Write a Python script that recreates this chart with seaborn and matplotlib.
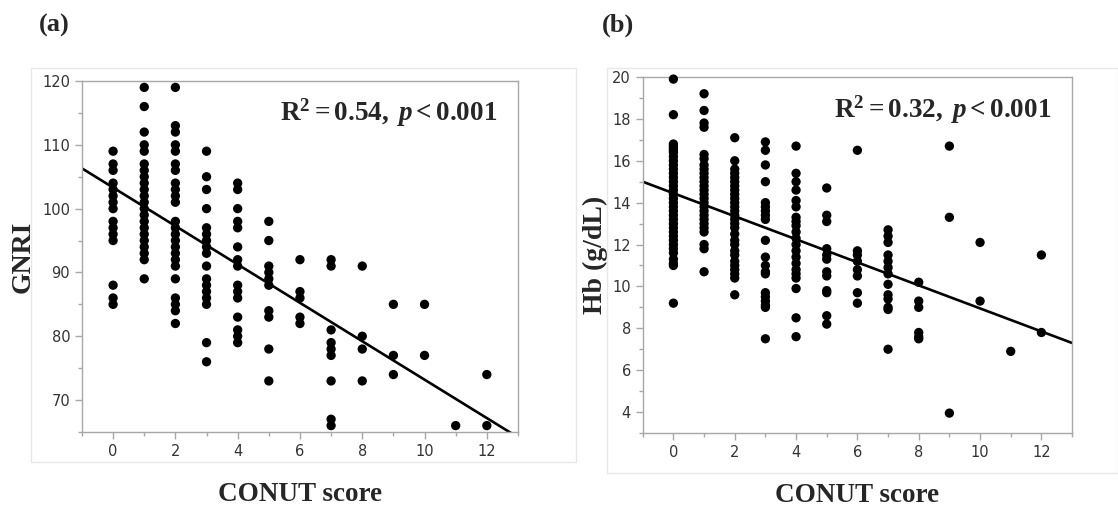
import numpy as np
import pandas as pd
import seaborn as sns
from matplotlib import pyplot as plt
from matplotlib.ticker import MultipleLocator

conut_scores = list(range(13))

# GNRI readings per CONUT score 0..12
gnri_values = [
    [109, 107, 106, 104, 103, 102, 101, 100, 98, 97, 96, 95, 88, 86, 85],
    [119, 116, 112, 110, 109, 107, 106, 105, 104, 103, 102, 101, 100, 99, 98,
     97, 96, 95, 94, 93, 92, 89],
    [119, 113, 112, 110, 109, 107, 106, 104, 103, 102, 101, 98, 97, 96, 95,
     94, 93, 92, 91, 89, 86, 85, 84, 82],
    [109, 105, 103, 100, 97, 96, 95, 94, 93, 91, 89, 88, 87, 86, 85, 79, 76],
    [104, 103, 100, 98, 97, 94, 92, 91, 88, 87, 86, 83, 81, 80, 79],
    [98, 95, 91, 90, 89, 88, 84, 83, 78, 73],
    [92, 87, 86, 83, 82],
    [92, 91, 81, 79, 78, 77, 73, 67, 66],
    [91, 80, 78, 73],
    [85, 77, 74],
    [85, 77],
    [66],
    [74, 66],
]

# Hb readings per CONUT score 0..12
hb_values = [
    [19.9, 18.2, 16.8, 16.7, 16.6, 16.5, 16.4, 16.2, 16.0, 15.8, 15.6, 15.4,
     15.2, 15.0, 14.8, 14.6, 14.4, 14.2, 14.0, 13.8, 13.6, 13.4, 13.2, 13.0,
     12.8, 12.6, 12.4, 12.2, 12.0, 11.8, 11.6, 11.3, 11.1, 11.0, 9.2],
    [19.2, 18.4, 17.8, 17.6, 16.3, 16.1, 15.8, 15.6, 15.4, 15.2, 15.0, 14.8,
     14.6, 14.4, 14.2, 14.0, 13.8, 13.6, 13.4, 13.2, 13.0, 12.8, 12.6, 12.0,
     11.8, 10.7],
    [17.1, 16.0, 15.6, 15.4, 15.2, 15.0, 14.8, 14.6, 14.4, 14.2, 14.0, 13.8,
     13.6, 13.4, 13.2, 13.0, 12.8, 12.5, 12.2, 12.0, 11.7, 11.5, 11.2, 11.0,
     10.8, 10.6, 10.4, 9.6],
    [16.9, 16.5, 15.8, 15.0, 14.0, 13.8, 13.6, 13.4, 13.2, 12.2, 11.4, 11.0,
     10.7, 10.6, 9.7, 9.5, 9.3, 9.1, 9.0, 7.5],
    [16.7, 15.4, 15.0, 14.6, 14.1, 13.8, 13.3, 13.1, 12.9, 12.6, 12.3, 12.0,
     11.7, 11.4, 11.1, 10.8, 10.6, 10.4, 9.9, 8.5, 7.6],
    [14.7, 13.4, 13.1, 11.8, 11.5, 11.3, 10.7, 10.5, 9.8, 9.7, 8.6, 8.2],
    [16.5, 11.7, 11.5, 11.2, 10.8, 10.5, 9.7, 9.2],
    [12.7, 12.4, 12.1, 11.5, 11.2, 10.9, 10.6, 10.1, 9.6, 9.4, 9.0, 8.9, 7.0],
    [10.2, 9.3, 9.0, 7.8, 7.6, 7.5],
    [16.7, 13.3, 3.95],
    [12.1, 9.3],
    [6.9],
    [11.5, 7.8],
]

# regression lines: (intercept, slope)
fit_a = (103.3, -3.01)
fit_b = (14.45, -0.55)
r2_text_a = r"$\mathrm{R}^{2} = 0.54,\;p < 0.001$"
r2_text_b = r"$\mathrm{R}^{2} = 0.32,\;p < 0.001$"


def long_df(values, name):
    rows = [(s, v) for s, vals in zip(conut_scores, values) for v in vals]
    return pd.DataFrame(rows, columns=['CONUT', name])


sns.set_style('white')
plt.rcParams['font.family'] = ['Liberation Serif', 'DejaVu Serif']
plt.rcParams['mathtext.fontset'] = 'custom'
plt.rcParams['mathtext.rm'] = 'Liberation Serif:bold'
plt.rcParams['mathtext.it'] = 'Liberation Serif:bold:italic'
plt.rcParams['mathtext.bf'] = 'Liberation Serif:bold'

fig = plt.figure(figsize=(11.18, 5.15), dpi=100)
ax_a = fig.add_axes([0.0733, 0.1612, 0.390, 0.6815])
ax_b = fig.add_axes([0.5749, 0.1592, 0.384, 0.6913])

# faint JMP-style frames
for x0, x1, y0, y1 in [(31, 576, 68, 462), (607, 1118, 68, 473)]:
    fig.patches.append(plt.Rectangle((x0 / 1118, 1 - y1 / 515), (x1 - x0) / 1118,
                                     (y1 - y0) / 515, transform=fig.transFigure,
                                     fill=False, edgecolor='#e8e8e8', lw=1, zorder=0))

panels = [
    (ax_a, long_df(gnri_values, 'GNRI'), 'GNRI', 'GNRI', fit_a, (65, 120), 10, 5, r2_text_a, 5),
    (ax_b, long_df(hb_values, 'Hb'), 'Hb', 'Hb (g/dL)', fit_b, (3, 20), 2, 1, r2_text_b, 3),
]

for ax, df, col, ylab, fit, ylim, major, minor, r2, ypad in panels:
    sns.scatterplot(data=df, x='CONUT', y=col, ax=ax, color='black', s=45,
                    edgecolor='none', clip_on=False, zorder=3)
    line = pd.DataFrame({'CONUT': [-1, 13]})
    line['fit'] = fit[0] + fit[1] * line['CONUT']
    sns.lineplot(data=line, x='CONUT', y='fit', ax=ax, color='black', lw=1.9)
    ax.set_xlim(-1, 13)
    ax.set_ylim(*ylim)
    ax.xaxis.set_major_locator(MultipleLocator(2))
    ax.xaxis.set_minor_locator(MultipleLocator(1))
    ax.yaxis.set_major_locator(MultipleLocator(major))
    ax.yaxis.set_minor_locator(MultipleLocator(minor))
    for s in ax.spines.values():
        s.set_color('#a8a8a8')
        s.set_linewidth(1.0)
    ax.tick_params(which='major', direction='out', length=5, width=1, color='#a8a8a8',
                   labelsize=10.5, labelcolor='#333333', left=True, bottom=True)
    ax.tick_params(which='minor', direction='out', length=3, width=1, color='#a8a8a8',
                   left=True, bottom=True)
    for lab in ax.get_xticklabels() + ax.get_yticklabels():
        lab.set_fontfamily('DejaVu Sans')
    ax.set_xlabel('CONUT score', fontsize=19.5, fontweight='bold', labelpad=17)
    ax.set_ylabel(ylab, fontsize=20, fontweight='bold', labelpad=ypad)
    ax.text(0.952, 0.955, r2, transform=ax.transAxes, ha='right', va='top', fontsize=19.5)

fig.text(39 / 1118, 1 - 25 / 515, '(a)', fontsize=19, fontweight='bold', va='center')
fig.text(602 / 1118, 1 - 25 / 515, '(b)', fontsize=19, fontweight='bold', va='center')

fig.savefig('out.png', dpi=100)
